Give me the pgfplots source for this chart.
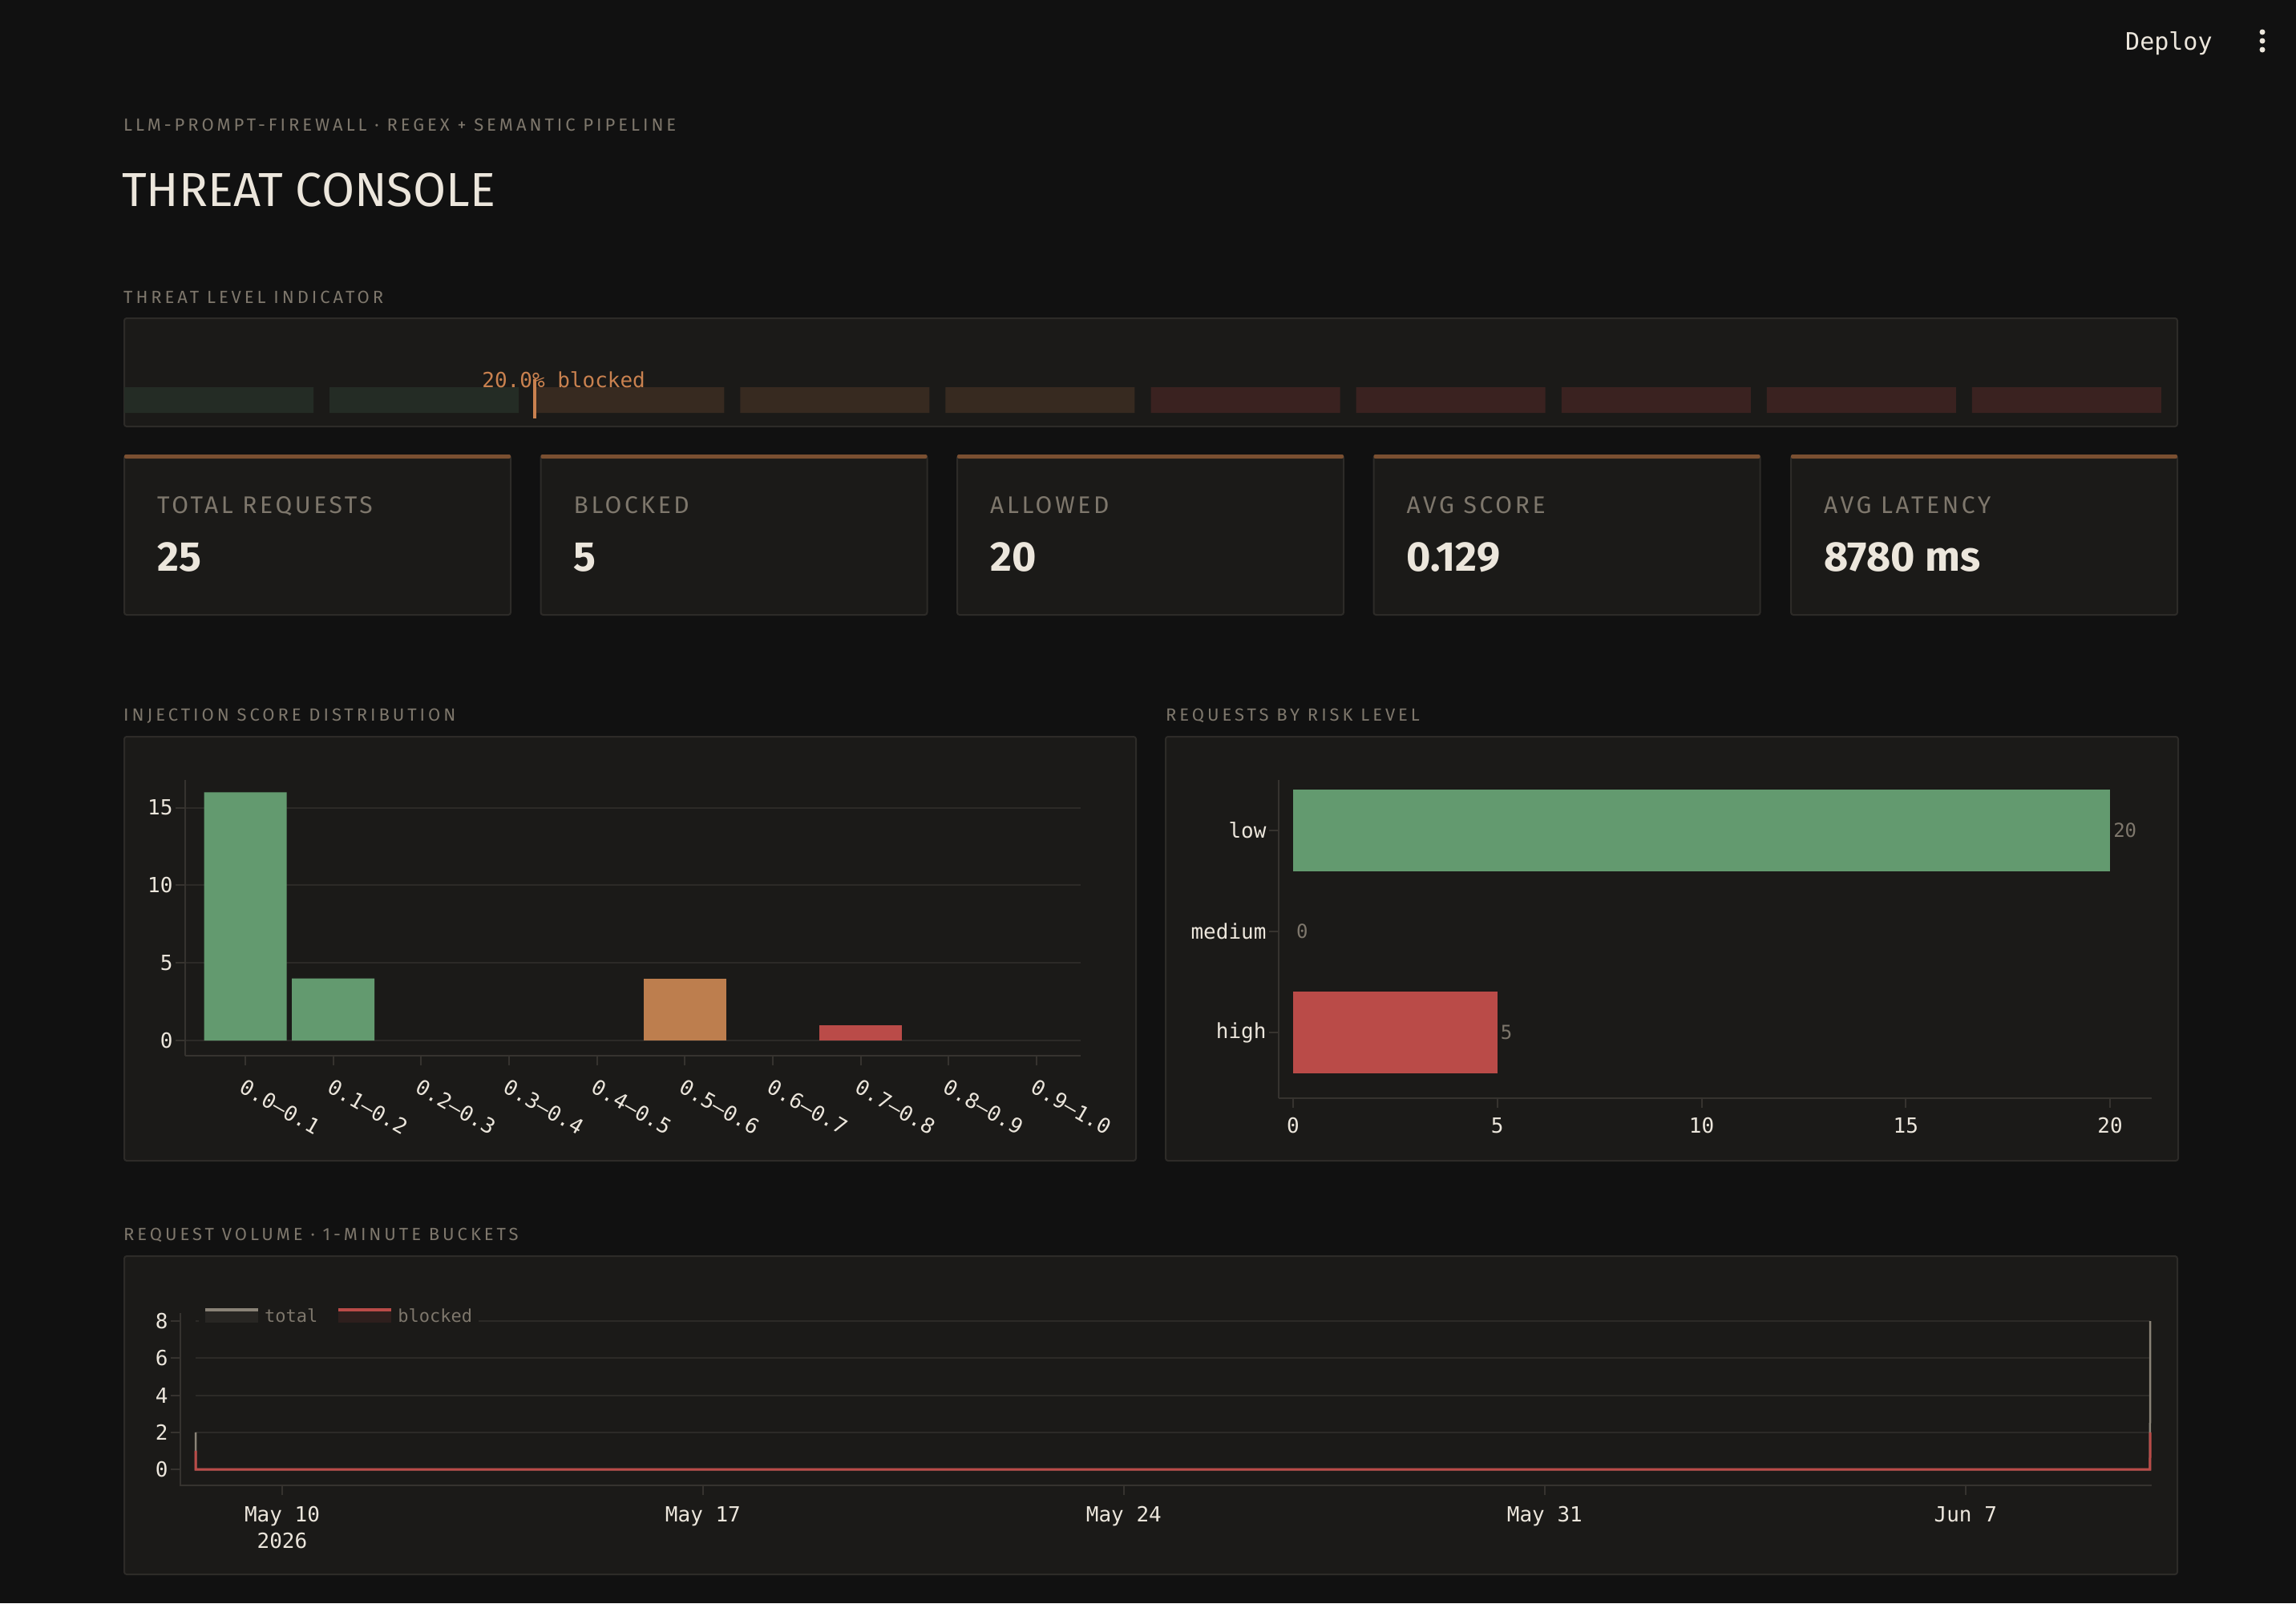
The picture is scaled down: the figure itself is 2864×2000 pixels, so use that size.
\documentclass[border=0pt]{standalone}
\usepackage{fontspec}
\usepackage{pgfplots}
\pgfplotsset{compat=1.18}
\setmainfont{Fira Sans}
\newfontfamily\mono{DejaVu Sans Mono}
\newfontfamily\tracked[LetterSpace=18]{Fira Sans}
\newfontfamily\trackedkpi[LetterSpace=12]{Fira Sans}

\definecolor{pagebg}{HTML}{111111}
\definecolor{panel}{HTML}{1B1A18}
\definecolor{panelline}{HTML}{2D2B28}
\definecolor{gridc}{HTML}{2C2A27}
\definecolor{axisc}{HTML}{36332F}
\definecolor{txt}{HTML}{ECE6DC}
\definecolor{muted}{HTML}{7E776C}
\definecolor{okgreen}{HTML}{639A6F}
\definecolor{warn}{HTML}{BD7E4E}
\definecolor{bad}{HTML}{BA4B48}
\definecolor{accent}{HTML}{7A4F31}
\definecolor{segok}{HTML}{242C25}
\definecolor{segwarn}{HTML}{372A20}
\definecolor{segbad}{HTML}{3A2220}
\definecolor{marker}{HTML}{C9814F}
\definecolor{totalc}{HTML}{8A8377}

\pgfplotsset{
  panelaxis/.style={
    scale only axis,
    axis x line*=bottom, axis y line*=left,
    axis line style={axisc, line width=2pt, -},
    tick style={axisc, line width=2pt},
    major tick length=12pt,
    tick align=outside,
    tick pos=left,
    tick label style={font=\mono\fontsize{26}{30}\selectfont, text=txt},
    /pgf/number format/assume math mode=true,
    grid style={gridc, line width=2pt},
  },
}

\begin{document}
\begin{tikzpicture}[x=1pt, y=-1pt]
% page
\fill[pagebg] (0,0) rectangle (2864,2000);

% top bar
\node[anchor=base west, inner sep=0, font=\mono\fontsize{30}{34}\selectfont, text=txt] at (2651,62) {Deploy};
\foreach \yy in {40,51,62} \fill[txt] (2822,\yy) circle (3.5pt);

% header
\node[anchor=base west, inner sep=0, font=\tracked\fontsize{22}{26}\selectfont, text=muted] at (154,163) {LLM-PROMPT-FIREWALL · REGEX + SEMANTIC PIPELINE};
\node[anchor=base west, inner sep=0, font=\fontsize{59.5}{64}\selectfont, text=txt] at (152,257) {THREAT CONSOLE};

% threat level indicator
\node[anchor=base west, inner sep=0, font=\tracked\fontsize{22}{26}\selectfont, text=muted] at (154,378) {THREAT LEVEL INDICATOR};
\filldraw[fill=panel, draw=panelline, line width=2pt, rounded corners=3pt] (155,397) rectangle (2716,532);

\begin{axis}[
  at={(155pt,-515pt)}, anchor=south west,
  width=2561pt, height=32pt, scale only axis,
  xmin=0, xmax=1, ymin=0, ymax=1,
  hide axis, clip=false,
]
  \addplot[ybar, bar shift=0pt, bar width=236pt, fill=segok, draw=none]
    coordinates {(0.0461,1) (0.1461,1)};
  \addplot[ybar, bar shift=0pt, bar width=236pt, fill=segwarn, draw=none]
    coordinates {(0.2461,1) (0.3461,1) (0.4461,1)};
  \addplot[ybar, bar shift=0pt, bar width=236pt, fill=segbad, draw=none]
    coordinates {(0.5461,1) (0.6461,1) (0.7461,1) (0.8461,1) (0.9461,1)};
  % blocked share marker
  \addplot[marker, line width=4pt] coordinates {(0.2,-0.22) (0.2,1.31)};
  \node[anchor=base west, inner sep=0, font=\mono\fontsize{26}{30}\selectfont, text=marker]
    at (axis cs:0.2,1.0) [xshift=-66pt] {20.0\% blocked};
\end{axis}

% KPI cards
\foreach \L/\lab/\val in {155/TOTAL REQUESTS/25, 674.5/BLOCKED/5, 1194/ALLOWED/20, 1713.5/AVG SCORE/0.129, 2234/AVG LATENCY/8780 ms}{
  \filldraw[fill=panel, draw=panelline, line width=2pt, rounded corners=3pt] (\L,568) rectangle ++(482,199);
  \fill[accent, rounded corners=2pt] (\L,567) rectangle ++(482,5);
  \node[anchor=base west, inner sep=0, font=\trackedkpi\fontsize{30}{34}\selectfont, text=muted] at (\L+41,640) {\lab};
  \node[anchor=base west, inner sep=0, font=\bfseries\fontsize{52}{58}\selectfont, text=txt] at (\L+41,712) {\val};
}

% section titles
\node[anchor=base west, inner sep=0, font=\tracked\fontsize{22}{26}\selectfont, text=muted] at (154,899) {INJECTION SCORE DISTRIBUTION};
\node[anchor=base west, inner sep=0, font=\tracked\fontsize{22}{26}\selectfont, text=muted] at (1454,899) {REQUESTS BY RISK LEVEL};
\node[anchor=base west, inner sep=0, font=\tracked\fontsize{22}{26}\selectfont, text=muted] at (154,1547) {REQUEST VOLUME · 1-MINUTE BUCKETS};

% panels
\filldraw[fill=panel, draw=panelline, line width=2pt, rounded corners=3pt] (155,919) rectangle (1417,1448);
\filldraw[fill=panel, draw=panelline, line width=2pt, rounded corners=3pt] (1454,919) rectangle (2717,1448);
\filldraw[fill=panel, draw=panelline, line width=2pt, rounded corners=3pt] (155,1567) rectangle (2716,1964);

% injection score histogram
\begin{axis}[
  panelaxis,
  at={(231pt,-1317pt)}, anchor=south west,
  width=1117pt, height=344pt,
  xmin=-0.684, xmax=9.501, ymin=-0.98, ymax=16.79,
  xtick={0,1,2,3,4,5,6,7,8,9},
  xticklabels={0.0–0.1,0.1–0.2,0.2–0.3,0.3–0.4,0.4–0.5,0.5–0.6,0.6–0.7,0.7–0.8,0.8–0.9,0.9–1.0},
  ytick={0,5,10,15},
  ymajorgrids,
  xticklabel style={rotate=-30, anchor=north west, xshift=5pt, yshift=-10pt},
]
  \addplot[ybar, bar shift=0pt, bar width=103pt, fill=okgreen, draw=none] coordinates {(0,16) (1,4)};
  \addplot[ybar, bar shift=0pt, bar width=103pt, fill=warn, draw=none] coordinates {(5,4)};
  \addplot[ybar, bar shift=0pt, bar width=103pt, fill=bad, draw=none] coordinates {(7,1)};
\end{axis}

% requests by risk level
\begin{axis}[
  panelaxis,
  at={(1595pt,-1370pt)}, anchor=south west,
  width=1089pt, height=397pt,
  xmin=-0.353, xmax=21.02, ymin=-0.651, ymax=2.5,
  xtick={0,5,10,15,20},
  ytick={0,1,2}, yticklabels={high,medium,low},
  xticklabel style={yshift=-9pt},
  nodes near coords style={font=\mono\fontsize{24}{28}\selectfont, text=muted, anchor=west, inner sep=4pt},
]
  \addplot[xbar, bar shift=0pt, bar width=102pt, fill=okgreen, draw=none, point meta=x, nodes near coords] coordinates {(20,2)};
  \addplot[xbar, bar shift=0pt, bar width=102pt, fill=none, draw=none, point meta=x, nodes near coords] coordinates {(0,1)};
  \addplot[xbar, bar shift=0pt, bar width=102pt, fill=bad, draw=none, point meta=x, nodes near coords] coordinates {(5,0)};
\end{axis}

% request volume, x in days from May 10
\draw[axisc, line width=2pt] (225,1638) -- (225,1853) -- (2684,1853);
\begin{axis}[
  at={(244pt,-1853pt)}, anchor=south west,
  width=2438pt, height=215pt, scale only axis,
  xmin=-1.44, xmax=31.07, ymin=-0.866, ymax=8.44,
  axis line style={draw=none},
  tick style={axisc, line width=2pt},
  major tick length=12pt, tick align=outside, tick pos=left,
  y tick style={xshift=-19pt},
  yticklabel style={xshift=-19pt},
  tick label style={font=\mono\fontsize{26}{33}\selectfont, text=txt},
  /pgf/number format/assume math mode=true,
  ytick={0,2,4,6,8}, ymajorgrids, grid style={gridc, line width=2pt},
  xtick={0,7,14,21,28},
  xticklabels={{May 10\\2026},{May 17},{May 24},{May 31},{Jun 7}},
  xticklabel style={align=center, yshift=-11pt},
  clip=false,
  legend columns=2,
  legend style={at={(0,1)}, anchor=north west, xshift=4pt, yshift=14pt, fill=panel, draw=none,
    font=\mono\fontsize{22}{24}\selectfont, text=muted, inner sep=6pt,
    /tikz/every even column/.append style={column sep=22pt}},
  legend image code/.code={
    \path[fill, draw=none, fill opacity=0.12] (0pt,-9pt) rectangle (66pt,5pt);
    \path[draw, line width=4pt] (0pt,7pt) -- (66pt,7pt);
    \path[draw=none] (72pt,0pt);
  },
]
  \addplot[color=totalc, line width=2.5pt] coordinates {(-1.44,2) (-1.4393,0) (31.0693,0) (31.07,8)};
  \addplot[color=bad, line width=3pt] coordinates {(-1.44,1) (-1.4393,0) (31.0693,0) (31.07,2)};
  \legend{total,blocked}
\end{axis}

\pgfresetboundingbox
\path[use as bounding box] (0,0) rectangle (2864,2000);
\end{tikzpicture}
\end{document}
